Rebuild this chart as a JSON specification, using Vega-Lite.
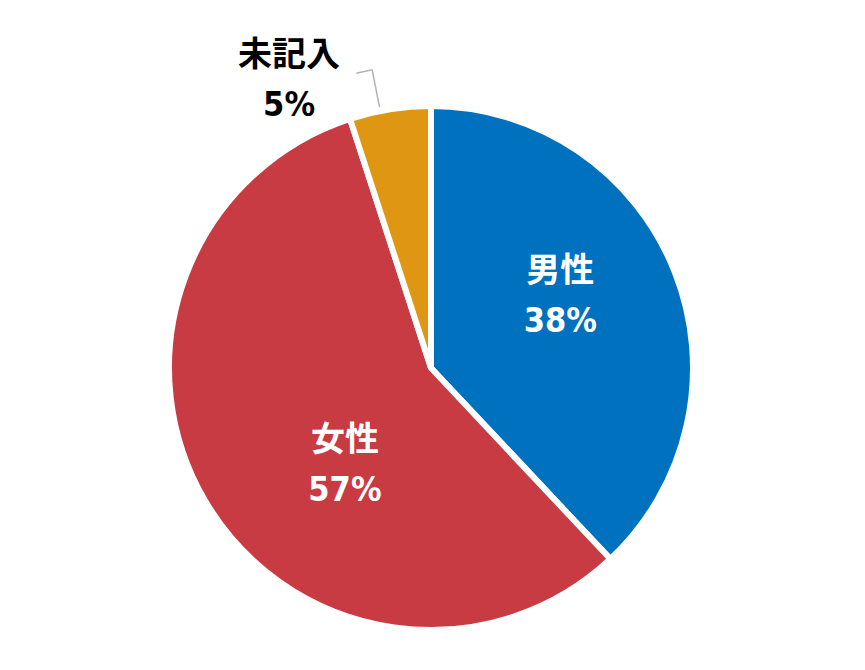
{
  "$schema": "https://vega.github.io/schema/vega-lite/v6.json",
  "width": 865,
  "height": 670,
  "autosize": {"type": "fit", "contains": "padding"},
  "padding": {"top": 66, "left": 0, "right": 3, "bottom": 0},
  "background": "white",
  "data": {
    "values": [
      {"name": "男性", "value": 38, "order": 1},
      {"name": "女性", "value": 57, "order": 2},
      {"name": "未記入", "value": 5, "order": 3}
    ]
  },
  "transform": [
    {"stack": "value", "groupby": [], "sort": [{"field": "order", "order": "ascending"}], "as": ["s0", "s1"]},
    {"calculate": "(datum.s0 + datum.s1) / 2", "as": "mid"},
    {"calculate": "[datum.name, datum.value + '%']", "as": "label"}
  ],
  "layer": [
    {
      "mark": {"type": "arc", "radius": 262, "stroke": "white", "strokeWidth": 6},
      "encoding": {
        "theta": {"field": "s0", "type": "quantitative", "stack": null, "scale": {"domain": [0, 100]}},
        "theta2": {"field": "s1"},
        "color": {
          "field": "name",
          "type": "nominal",
          "scale": {"domain": ["男性", "女性", "未記入"], "range": ["#0071bf", "#c83b42", "#df9613"]},
          "legend": null
        }
      }
    },
    {
      "transform": [
        {"filter": "datum.name == '未記入'"},
        {"calculate": "datum.mid - 0.6", "as": "lt"}
      ],
      "mark": {"type": "arc", "stroke": "#b3b3b3", "strokeWidth": 1.5, "fillOpacity": 0},
      "encoding": {
        "theta": {"field": "lt", "type": "quantitative", "stack": null, "scale": {"domain": [0, 100]}},
        "theta2": {"field": "lt"},
        "radius": {"value": 304},
        "radius2": {"value": 266}
      }
    },
    {
      "transform": [
        {"filter": "datum.name == '未記入'"},
        {"calculate": "datum.mid - 0.6", "as": "lt"},
        {"calculate": "datum.lt - 0.85", "as": "lt2"}
      ],
      "mark": {"type": "arc", "stroke": "#b3b3b3", "strokeWidth": 1.5, "fillOpacity": 0},
      "encoding": {
        "theta": {"field": "lt", "type": "quantitative", "stack": null, "scale": {"domain": [0, 100]}},
        "theta2": {"field": "lt2"},
        "radius": {"value": 304},
        "radius2": {"value": 304}
      }
    },
    {
      "transform": [{"filter": "datum.name == '男性'"}],
      "mark": {"type": "text", "color": "white", "dy": -45},
      "encoding": {
        "theta": {"field": "mid", "type": "quantitative", "stack": null, "scale": {"domain": [0, 100]}},
        "radius": {"value": 139},
        "text": {"field": "label"}
      }
    },
    {
      "transform": [{"filter": "datum.name == '女性'"}],
      "mark": {"type": "text", "color": "white", "dy": 22},
      "encoding": {
        "theta": {"field": "mid", "type": "quantitative", "stack": null, "scale": {"domain": [0, 100]}},
        "radius": {"value": 100},
        "text": {"field": "label"}
      }
    },
    {
      "transform": [{"filter": "datum.name == '未記入'"}],
      "mark": {"type": "text", "color": "black", "dx": -95, "dy": -16},
      "encoding": {
        "theta": {"field": "mid", "type": "quantitative", "stack": null, "scale": {"domain": [0, 100]}},
        "radius": {"value": 300},
        "text": {"field": "label"}
      }
    }
  ],
  "config": {
    "view": {"stroke": null},
    "text": {
      "font": "'DejaVu Sans Condensed', 'Liberation Sans Narrow', 'Noto Sans CJK JP', sans-serif",
      "fontSize": 34,
      "fontWeight": "bold",
      "align": "center",
      "baseline": "middle",
      "lineHeight": 50
    }
  }
}
